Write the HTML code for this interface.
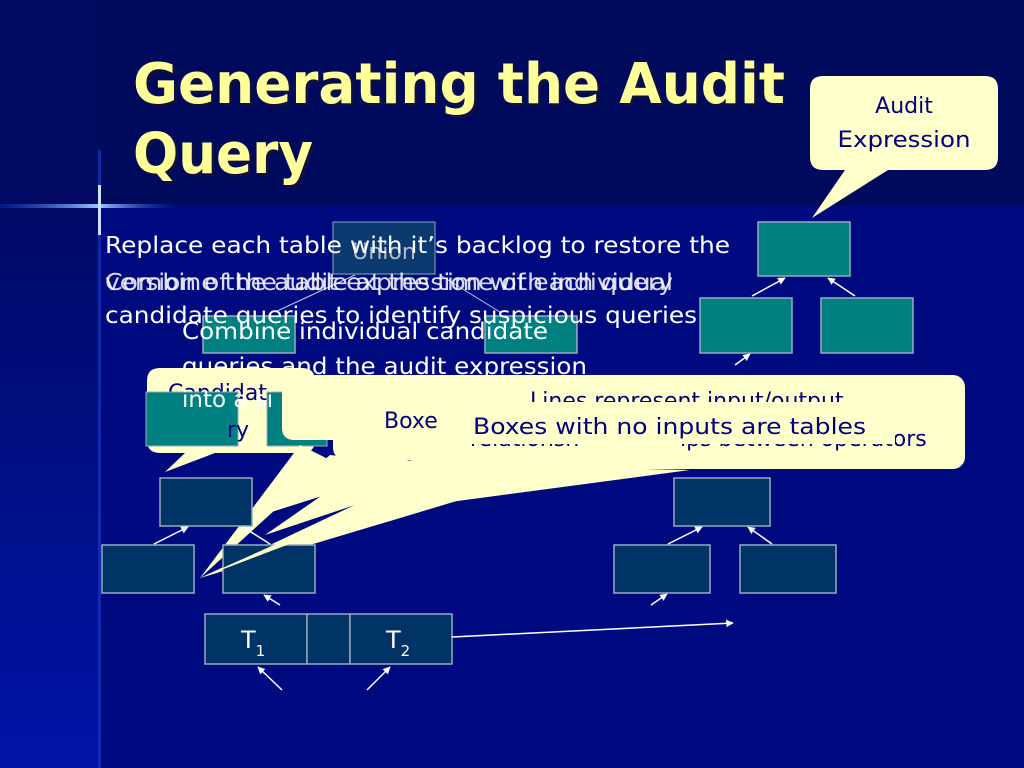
<!DOCTYPE html>
<html><head><meta charset="utf-8"><style>
html,body{margin:0;padding:0;background:#000a78;}
svg{display:block}
text{font-family:"DejaVu Sans","Liberation Sans",sans-serif;}
</style></head><body>
<svg width="1024" height="768" viewBox="0 0 1024 768" xmlns="http://www.w3.org/2000/svg">
<defs>
<linearGradient id="ls" x1="0" y1="0" x2="0" y2="1">
<stop offset="0" stop-color="#000a66"/><stop offset="1" stop-color="#0014a8"/></linearGradient>
<linearGradient id="hl" x1="0" y1="0" x2="1" y2="0">
<stop offset="0" stop-color="#0a3cc8" stop-opacity="0.3"/><stop offset="0.55" stop-color="#9fc4ff"/><stop offset="1" stop-color="#0a3cc8" stop-opacity="0"/></linearGradient>
<marker id="ah" viewBox="0 0 10 10" refX="9" refY="5" markerWidth="5" markerHeight="5" orient="auto"><path d="M0,0L10,5L0,10z" fill="#fff"/></marker>
</defs>
<rect width="1024" height="768" fill="#000a80"/>
<rect width="1024" height="206" fill="#000a5c"/>
<rect x="0" y="206" width="100" height="562" fill="url(#ls)"/>
<rect x="0" y="0" width="100" height="206" fill="#000a62"/>
<rect x="0" y="204" width="180" height="4" fill="url(#hl)"/>
<rect x="98" y="150" width="3" height="618" fill="#1a40c8" opacity="0.6"/>
<rect x="98" y="185" width="3" height="50" fill="#cfe0ff"/>
<text x="133" y="103" font-size="56" font-weight="bold" fill="#101040" textLength="652" lengthAdjust="spacingAndGlyphs" transform="translate(3,3)">Generating the Audit</text>
<text x="133" y="103" font-size="56" font-weight="bold" fill="#ffff99" textLength="652" lengthAdjust="spacingAndGlyphs">Generating the Audit</text>
<text x="136" y="176" font-size="56" font-weight="bold" fill="#101040" textLength="180" lengthAdjust="spacingAndGlyphs">Query</text>
<text x="133" y="173" font-size="56" font-weight="bold" fill="#ffff99" textLength="180" lengthAdjust="spacingAndGlyphs">Query</text>

<!-- audit expression callout -->
<path d="M830,76 H985 Q998,76 998,89 V157 Q998,170 985,170 H888 L812,218 L845,170 H823 Q810,170 810,157 V89 Q810,76 823,76 Z" fill="#ffffcc"/>
<text x="904" y="113" font-size="22" fill="#000080" text-anchor="middle">Audit</text>
<text x="904" y="147" font-size="22" fill="#000080" text-anchor="middle" textLength="133" lengthAdjust="spacingAndGlyphs">Expression</text>

<!-- right teal tree -->
<g fill="#008080" stroke="#9ab" stroke-width="1.5">
<rect x="758" y="222" width="92" height="54"/>
<rect x="700" y="298" width="92" height="55"/>
<rect x="821" y="298" width="92" height="55"/>
<rect x="203" y="316" width="92" height="37"/>
<rect x="485" y="316" width="92" height="37"/>
</g>
<g stroke="#fff" stroke-width="1.5" marker-end="url(#ah)">
<line x1="752" y1="296" x2="785" y2="278"/>
<line x1="855" y1="296" x2="828" y2="278"/>
<line x1="735" y1="365" x2="750" y2="354"/>
</g>
<rect x="333" y="222" width="102" height="52" fill="#0a3a70" stroke="#8ab"/>
<text x="384" y="259" font-size="22" fill="#ddd" text-anchor="middle" opacity="0.8">Union</text>
<line x1="355" y1="275" x2="275" y2="312" stroke="#bcd" stroke-width="1"/>
<line x1="440" y1="275" x2="500" y2="312" stroke="#bcd" stroke-width="1"/>

<!-- body text -->
<g font-size="23" fill="#fff">
<text x="105" y="253" textLength="625" lengthAdjust="spacingAndGlyphs">Replace each table with it’s backlog to restore the</text>
<text x="105" y="290" textLength="568" lengthAdjust="spacingAndGlyphs" opacity="0.85">version of the table at the time of each query</text>
<text x="105" y="290" textLength="568" lengthAdjust="spacingAndGlyphs" opacity="0.85">Combine the audit expression with individual</text>
<text x="105" y="323" textLength="592" lengthAdjust="spacingAndGlyphs">candidate queries to identify suspicious queries</text>
<text x="182" y="339" textLength="366" lengthAdjust="spacingAndGlyphs">Combine individual candidate</text>
<text x="182" y="374" textLength="405" lengthAdjust="spacingAndGlyphs">queries and the audit expression</text>
</g>

<!-- left callout -->
<path d="M160,368 H302 Q315,368 315,381 V440 Q315,453 302,453 H215 L165,472 L185,453 H160 Q147,453 147,440 V381 Q147,368 160,368 Z" fill="#ffffcc"/>
<text x="168" y="400" font-size="22" fill="#000080">Candidat</text>
<g fill="#008080" stroke="#9ab" stroke-width="1">
<rect x="146" y="392" width="92" height="54"/>
<rect x="267" y="392" width="60" height="54"/>
</g>
<text x="227" y="437" font-size="22" fill="#000080">ry</text>
<text x="182" y="407" font-size="23" fill="#fff">into a si</text>

<!-- union callout + tails -->
<path d="M295,375 H420 Q432,375 432,388 V440 H295 Q282,440 282,428 V388 Q282,375 295,375 Z" fill="#ffffcc"/>
<path d="M300,445 L200,578 L330,460 Z" fill="#ffffcc"/>
<path d="M330,455 L262,515 L420,465 Z" fill="#ffffcc"/>
<path d="M380,455 L265,535 L460,470 Z" fill="#ffffcc"/>
<path d="M450,460 L200,578 L560,470 Z" fill="#ffffcc"/>

<!-- big callout lines represent -->
<rect x="410" y="375" width="555" height="94" rx="12" fill="#ffffcc"/>
<path d="M480,465 L390,510 L690,470 Z" fill="#ffffcc"/>
<text x="530" y="408" font-size="22" fill="#000080">Lines represent input/output</text>
<text x="680" y="446" font-size="22" fill="#000080">ips between operators</text>
<text x="470" y="446" font-size="22" fill="#000080">relationsh</text>

<!-- boxes callout -->
<rect x="333" y="395" width="135" height="65" rx="12" fill="#ffffcc"/>
<text x="384" y="428" font-size="22" fill="#000080">Boxe</text>
<rect x="445" y="402" width="450" height="42" fill="#ffffcc"/>
<text x="473" y="434" font-size="22" fill="#000080" textLength="393" lengthAdjust="spacingAndGlyphs">Boxes with no inputs are tables</text>

<!-- left dark tree -->
<g fill="#003366" stroke="#9ab" stroke-width="1.5">
<rect x="160" y="478" width="92" height="48"/>
<rect x="102" y="545" width="92" height="48"/>
<rect x="223" y="545" width="92" height="48"/>
<rect x="205" y="614" width="102" height="50"/>
<rect x="307" y="614" width="43" height="50"/>
<rect x="350" y="614" width="102" height="50"/>
<rect x="674" y="478" width="96" height="48"/>
<rect x="614" y="545" width="96" height="48"/>
<rect x="740" y="545" width="96" height="48"/>
</g>
<path d="M200,578 L330,520 L400,492 L300,540 Z" fill="#ffffcc"/>
<g stroke="#fff" stroke-width="1.5" marker-end="url(#ah)">
<line x1="154" y1="544" x2="188" y2="527"/>
<line x1="270" y1="544" x2="243" y2="527"/>
<line x1="280" y1="605" x2="264" y2="595"/>
<line x1="282" y1="690" x2="258" y2="667"/>
<line x1="367" y1="690" x2="390" y2="667"/>
<line x1="452" y1="637" x2="733" y2="623"/>
<line x1="668" y1="544" x2="702" y2="527"/>
<line x1="772" y1="544" x2="748" y2="527"/>
<line x1="651" y1="605" x2="667" y2="594"/>
</g>
<text x="241" y="648" font-size="24" fill="#fff">T<tspan font-size="15" dy="8">1</tspan></text>
<text x="386" y="648" font-size="24" fill="#fff">T<tspan font-size="15" dy="8">2</tspan></text>
</svg>
</body></html>
